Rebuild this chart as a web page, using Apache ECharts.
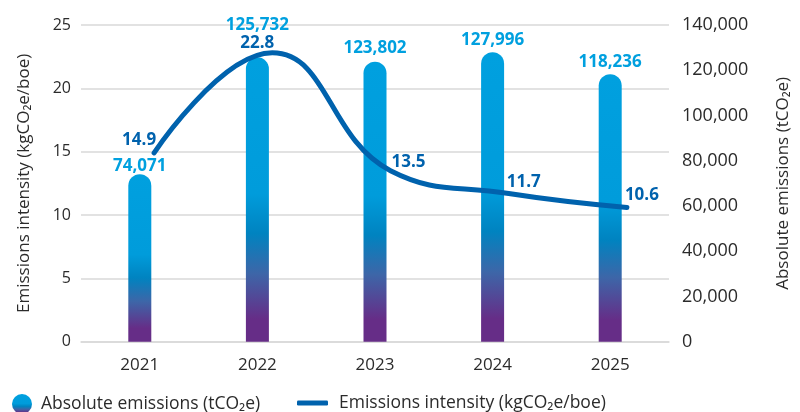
<!DOCTYPE html>
<html>
<head>
<meta charset="utf-8">
<script src="https://cdn.jsdelivr.net/npm/echarts@6/dist/echarts.min.js"></script>
<style>
html,body{margin:0;padding:0;background:#fff;}
#chart{width:800px;height:412px;}
</style>
</head>
<body>
<div id="chart"></div>
<script>
const years = ['2021', '2022', '2023', '2024', '2025'];
const absoluteEmissions = [74071, 125732, 123802, 127996, 118236];
const emissionsIntensity = [14.9, 22.8, 13.5, 11.7, 10.6];
const barName = 'Absolute emissions (tCO₂e)';
const lineName = 'Emissions intensity (kgCO₂e/boe)';
const leftAxisName = 'Emissions intensity (kgCO₂e/boe)';
const rightAxisName = 'Absolute emissions (tCO₂e)';

// label placement (style only)
const barLabelOffsets = [[0, 1], [0, -23], [0, -4], [0, -3], [0, -3]];
const lineLabelOffsets = [[-15, -13], [-15, -10], [18, -9], [15, -11], [15, -12]];

const FONT = '"Open Sans", Lato, sans-serif';
const TEXT = '#2b2b2b';
const LIGHT = '#00a0df';
const DARK = '#0062ad';

const barGradient = new echarts.graphic.LinearGradient(0, 0, 0, 1, [
  { offset: 0, color: '#00a0df' },
  { offset: 0.48, color: '#009cdb' },
  { offset: 0.62, color: '#0083c0' },
  { offset: 0.76, color: '#3d66a8' },
  { offset: 0.92, color: '#662d87' },
  { offset: 1, color: '#662d87' }
]);

const chart = echarts.init(document.getElementById('chart'), null, { renderer: 'canvas' });
chart.setOption({
  animation: false,
  textStyle: { fontFamily: FONT },
  grid: [
    { left: 81, right: 128, top: 25, bottom: 70.3 },
    { left: 95, right: 114, top: 25, bottom: 70.3 }
  ],
  legend: [
    {
      data: [barName], left: 12, top: 394, icon: 'circle',
      itemWidth: 20, itemHeight: 20, padding: 0,
      textStyle: { fontSize: 17.5, color: TEXT, fontFamily: FONT, padding: [0, 0, 0, 4] }
    },
    {
      data: [lineName], left: 297, top: 394, icon: 'roundRect',
      itemWidth: 31, itemHeight: 5, padding: 0,
      textStyle: { fontSize: 17.5, color: TEXT, fontFamily: FONT, padding: [0, 0, 0, 6] }
    }
  ],
  xAxis: [
    {
      type: 'category', data: years, gridIndex: 0,
      axisLine: { show: true, lineStyle: { color: '#d9d9d9', width: 1.5 } },
      axisTick: { show: false },
      axisLabel: { fontSize: 17, color: TEXT, margin: 15, fontFamily: FONT }
    },
    {
      type: 'category', data: years, gridIndex: 1, show: false
    }
  ],
  yAxis: [
    {
      type: 'value', min: 0, max: 25, interval: 5, gridIndex: 0, position: 'left',
      name: leftAxisName, nameLocation: 'middle', nameRotate: 90, nameGap: 48,
      nameTextStyle: { fontSize: 17, color: TEXT, fontFamily: FONT },
      axisLine: { show: false }, axisTick: { show: false },
      axisLabel: { fontSize: 16, color: TEXT, margin: 10, fontFamily: FONT },
      splitLine: { lineStyle: { color: '#d9d9d9', width: 1.5 } }
    },
    {
      type: 'value', min: 0, max: 140000, interval: 20000, gridIndex: 0, position: 'right',
      name: rightAxisName, nameLocation: 'middle', nameRotate: 90, nameGap: 106,
      nameTextStyle: { fontSize: 17, color: TEXT, fontFamily: FONT },
      axisLine: { show: false }, axisTick: { show: false },
      axisLabel: {
        fontSize: 18, color: TEXT, margin: 13, fontFamily: FONT,
        formatter: v => v.toLocaleString('en-US')
      },
      splitLine: { show: false }
    },
    {
      type: 'value', min: 0, max: 25, interval: 5, gridIndex: 1, show: false
    }
  ],
  series: [
    {
      name: barName, type: 'bar', xAxisIndex: 0, yAxisIndex: 1,
      barWidth: 23,
      itemStyle: { color: barGradient, borderRadius: [12, 12, 0, 0] },
      data: absoluteEmissions.map((v, i) => ({
        value: v,
        label: {
          show: true, position: 'top', distance: 0, offset: barLabelOffsets[i],
          formatter: p => p.value.toLocaleString('en-US'),
          color: LIGHT, fontWeight: 'bold', fontSize: 17, lineHeight: 18, fontFamily: FONT
        }
      }))
    },
    {
      name: lineName, type: 'line', xAxisIndex: 1, yAxisIndex: 2,
      smooth: 0.45, symbol: 'circle', symbolSize: 2, showSymbol: true,
      lineStyle: { color: DARK, width: 5, cap: 'round' },
      itemStyle: { color: DARK },
      z: 5,
      data: emissionsIntensity.map((v, i) => ({
        value: v,
        label: {
          show: true, position: 'inside', offset: lineLabelOffsets[i],
          align: 'center', verticalAlign: 'middle',
          color: DARK, fontWeight: 'bold', fontSize: 17, fontFamily: FONT
        }
      }))
    }
  ]
});
</script>
</body>
</html>
